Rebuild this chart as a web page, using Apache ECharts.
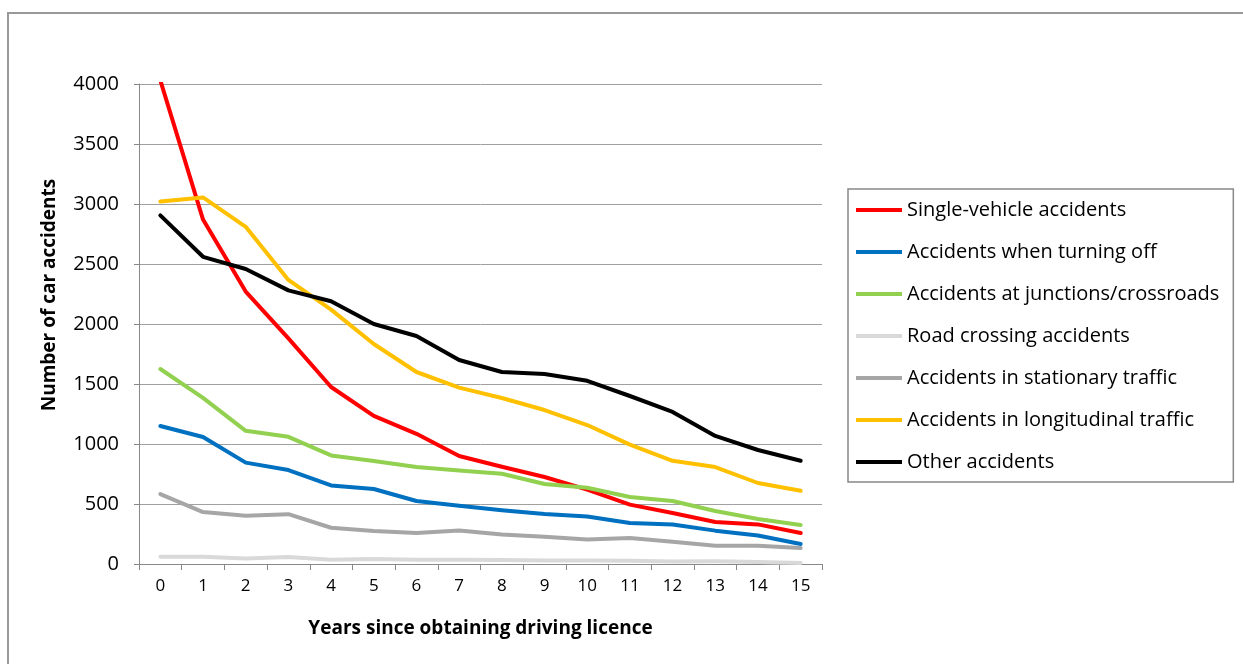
<!DOCTYPE html>
<html>
<head>
<meta charset="utf-8">
<script src="https://cdn.jsdelivr.net/npm/echarts@6/dist/echarts.min.js"></script>
<style>
html,body{margin:0;padding:0;background:#fff;}
#chart{width:1243px;height:664px;}
</style>
</head>
<body>
<div id="chart"></div>
<script>
const years = ['0','1','2','3','4','5','6','7','8','9','10','11','12','13','14','15'];
const seriesNames = [
  'Single-vehicle accidents',
  'Accidents when turning off',
  'Accidents at junctions/crossroads',
  'Road crossing accidents',
  'Accidents in stationary traffic',
  'Accidents in longitudinal traffic',
  'Other accidents'
];
const singleVehicle = [4030, 2870, 2270, 1880, 1475, 1235, 1085, 900, 810, 725, 620, 495, 425, 350, 330, 258];
const turningOff = [1150, 1058, 845, 783, 655, 625, 525, 485, 448, 417, 395, 342, 330, 278, 237, 167];
const junctions = [1625, 1385, 1110, 1060, 905, 858, 808, 780, 752, 667, 635, 558, 525, 442, 375, 325];
const roadCrossing = [60, 60, 45, 58, 35, 42, 35, 35, 33, 30, 30, 27, 20, 22, 17, 8];
const stationary = [583, 433, 403, 415, 302, 275, 258, 280, 245, 228, 205, 217, 185, 152, 152, 133];
const longitudinal = [3020, 3055, 2810, 2367, 2120, 1833, 1600, 1470, 1383, 1283, 1158, 995, 860, 808, 675, 610];
const other = [2905, 2560, 2458, 2280, 2190, 2000, 1900, 1700, 1600, 1583, 1527, 1400, 1267, 1067, 950, 860];
const colors = ['#FF0000', '#0070C0', '#92D050', '#D9D9D9', '#A6A6A6', '#FFC000', '#000000'];
const allData = [singleVehicle, turningOff, junctions, roadCrossing, stationary, longitudinal, other];

const FONT = 'Open Sans';
const chart = echarts.init(document.getElementById('chart'));
chart.setOption({
  animation: false,
  backgroundColor: '#ffffff',
  textStyle: { fontFamily: FONT },
  grid: { left: 139, right: 421, top: 84, bottom: 100, containLabel: false },
  graphic: [
    { type: 'rect', silent: true, z: -1, shape: { x: 8, y: 13, width: 1300, height: 700 },
      style: { fill: 'none', stroke: '#999999', lineWidth: 2 } },
    { type: 'text', x: 50, y: 295, rotation: Math.PI / 2,
      style: { text: 'Number of car accidents', fontFamily: FONT, fontWeight: 'bold', fontSize: 19,
        fill: '#000', align: 'center', verticalAlign: 'middle' } }
  ],
  legend: {
    orient: 'vertical',
    left: 848,
    top: 189,
    data: seriesNames,
    icon: 'rect',
    itemWidth: 46,
    itemHeight: 4,
    itemGap: 20,
    padding: [10, 14, 9, 8],
    borderColor: '#888888',
    borderWidth: 1.5,
    textStyle: { fontFamily: FONT, fontSize: 20, color: '#000', padding: [0, 0, 0, 0], lineHeight: 22 }
  },
  xAxis: {
    type: 'category',
    data: years,
    boundaryGap: true,
    name: 'Years since obtaining driving licence',
    nameLocation: 'middle',
    nameGap: 55,
    nameTextStyle: { fontFamily: FONT, fontWeight: 'bold', fontSize: 19, color: '#000' },
    axisLine: { lineStyle: { color: '#888888', width: 1 } },
    axisTick: { show: true, alignWithLabel: false, length: 6, lineStyle: { color: '#888888' } },
    axisLabel: { fontFamily: FONT, fontSize: 17, color: '#000', margin: 14 }
  },
  yAxis: {
    type: 'value',
    min: 0,
    max: 4000,
    interval: 500,
    axisLine: { show: true, lineStyle: { color: '#888888', width: 1 } },
    axisTick: { show: true, length: 5, lineStyle: { color: '#888888' } },
    axisLabel: { fontFamily: FONT, fontSize: 20, color: '#000', margin: 20, formatter: v => String(v) },
    splitLine: { show: true, lineStyle: { color: '#A0A0A0', width: 1 } }
  },
  series: seriesNames.map((n, i) => ({
    name: n,
    type: 'line',
    data: allData[i],
    symbol: 'none',
    smooth: false,
    lineStyle: { width: 4, color: colors[i], join: 'round', cap: 'round' },
    itemStyle: { color: colors[i] },
    z: 2 + i
  }))
});
</script>
</body>
</html>
